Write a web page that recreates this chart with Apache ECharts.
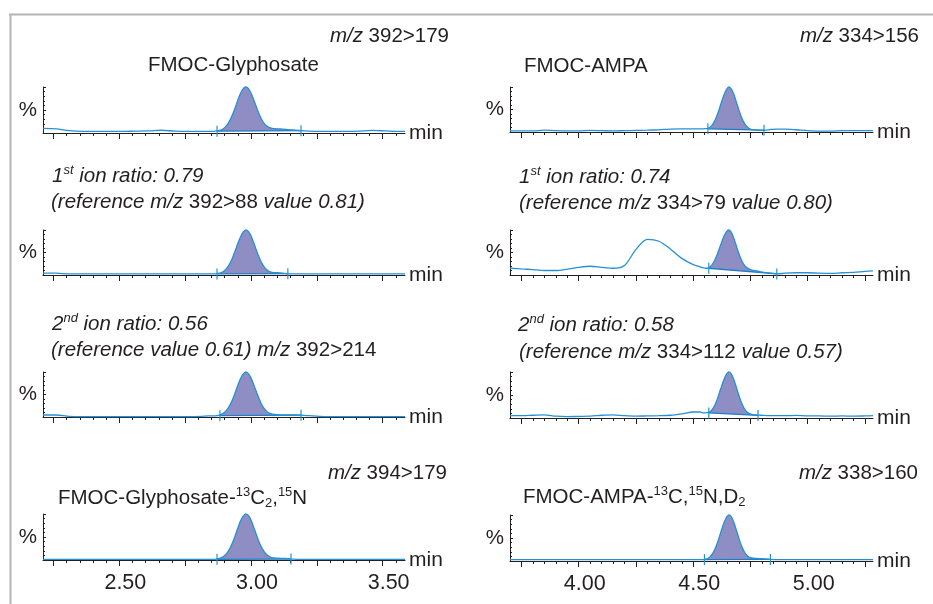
<!DOCTYPE html>
<html><head><meta charset="utf-8">
<script src="https://cdn.jsdelivr.net/npm/echarts@6/dist/echarts.min.js"></script>
<style>html,body{margin:0;padding:0;background:#fff}#c{width:933px;height:604px}</style>
</head><body><div id="c"></div>
<script>
// ---------- DATA ----------
const timesLeft = [2.21,2.26,2.31,2.36,2.41,2.46,2.51,2.56,2.61,2.66,2.71,2.76,2.81,2.84,2.86,
  2.87,2.88,2.89,2.90,2.91,2.92,2.93,2.94,2.95,2.96,2.97,2.98,2.99,3.00,3.01,3.02,3.03,3.04,3.05,3.06,3.07,3.08,
  3.10,3.12,3.14,3.16,3.19,
  3.22,3.26,3.31,3.36,3.41,3.46,3.51,3.56,3.585];
const timesRight = [3.70,3.75,3.80,3.85,3.90,3.95,4.00,4.05,4.10,4.15,4.20,4.25,4.30,4.35,4.40,4.45,4.50,4.53,
  4.545,4.555,4.565,4.575,4.585,4.595,4.605,4.615,4.625,4.635,4.645,4.655,4.665,4.675,4.685,4.695,4.705,4.715,4.725,4.735,4.745,4.755,
  4.775,4.795,4.815,4.84,4.87,
  4.90,4.95,5.00,5.05,5.10,5.15,5.20,5.25,5.285];

const glyphosate = [10,9,5,3.5,3.5,3.5,3.5,4,4.5,6,4,3.5,3.5,3.5,3.7,
  4.4,5.5,7.7,11.7,18,27.5,40,55,71.5,86,96,100,97,87,73,57.5,42.5,30,21,15,11.5,10,
  9,8.5,7.5,6.5,5,
  4,3.5,3.5,3.5,4,5.5,4.5,3.5,3.5];
const glyphosateIon1 = [4,4,2.5,2.5,2.5,2.5,2.5,2.5,2.5,2.5,2.5,2.5,2.5,2.5,2.5,
  2.9,4,6.2,10.2,16.5,26,38.6,53.7,70,84.5,95,100,97,87,72,56,40.5,27.5,18,11.5,7.5,6,
  5,4,3,2.5,2.5,
  2.5,2.5,2.5,2.5,2.5,2.5,2.5,2.5,2.5];
const glyphosateIon2 = [4.5,4.5,1.5,1,1,1,1,1,1,1,1,1,1.5,2.5,2.5,
  3,4,6.5,10.5,17,26.5,39,54,70.5,85,95,100,96.5,87,72.5,57,41.5,28.5,19,12.5,8.5,6.5,
  5,4.5,4.5,4.5,4,
  3,1.5,1,1,1,1,1,1,1];
const glyphosateIS = [1.5,1.5,1.5,1.5,1.5,1.5,1.5,1.5,1.5,1.5,1.5,1.5,1.5,1.5,1.5,
  2.3,3.5,5.7,9.7,16,25.5,38,53,69.5,84.5,95,100,97,87,72,56,40.5,27.5,18,11.5,7.5,5,
  4,3.5,3,2,1.5,
  1.5,1.5,1.5,1.5,1.5,1.5,1.5,1.5,1.5];

const ampa = [2.5,2.5,2.5,4,3,2.5,2.5,3.5,3,2.5,3,3.5,4,5,6.5,7,7,7,
  7,7.5,8,11,17,26,38.5,53,69,83.5,94,100,96.5,86.5,72,56,40.5,27.5,18,11.5,7.5,5.5,
  4,3.5,4,6,6.5,
  6.5,5,3,2,2,3,3,3,3];
const ampaIon1 = [15,13.5,12,10,10,13,17,19.5,17,15,21,57,79,75,58,37,23,18,
  16,15,15.5,19,25,34,46,60,74,87,96,100,96,85,70,54,40,29,21,16,13,11,
  9,7,5.5,4,2.5,
  4,5,5,4,3.5,5,6,8,9];
const ampaIon2 = [5,5,6,7,4,3,3.5,4,6,7,5,4,4.5,5,6,9,13,13,
  11,11,12,14,20,29,41,56,71,85,95,100,96.5,86.5,72,56,41,28,19,13,9.5,8,
  6.5,6,5.5,5,5,
  5,5.5,4.5,4.5,4,4.5,4,4.5,5];
const ampaIS = [3,3,3,3,3,3,3,3,3,3,3,3,3,3,3,3,3,3,
  3.2,4,6,10,16.5,26,38.5,53.5,69.5,84,94.5,100,97,87,72.5,56.5,41,28,18.5,12,8,6.5,
  5.5,5,4.5,3.5,3,
  3,3,3,3,3,3,3,3,3];

// integration windows: [start time, start baseline, end time, end baseline]
const integGlyphosate = [2.871, 4, 3.19, 5];
const integGlyphosateIon1 = [2.871, 2.5, 3.14, 3];
const integGlyphosateIon2 = [2.882, 3, 3.19, 4];
const integGlyphosateIS = [2.871, 1.5, 3.152, 2];
const integAmpa = [4.564, 7, 4.809, 4];
const integAmpaIon1 = [4.568, 15, 4.865, 2.5];
const integAmpaIon2 = [4.568, 11, 4.783, 5.5];
const integAmpaIS = [4.549, 3, 4.837, 3.5];

const majorTicksLeft = [2.25,2.50,2.75,3.00,3.25,3.50];
const minorTicksLeft = [2.25,2.30,2.35,2.40,2.45,2.50,2.55,2.60,2.65,2.70,2.75,2.80,2.85,2.90,2.95,3.00,3.05,3.10,3.15,3.20,3.25,3.30,3.35,3.40,3.45,3.50,3.55];
const tickLabelsLeft = [2.50,3.00,3.50];
const majorTicksRight = [3.75,4.00,4.25,4.50,4.75,5.00,5.25];
const minorTicksRight = [3.75,3.80,3.85,3.90,3.95,4.00,4.05,4.10,4.15,4.20,4.25,4.30,4.35,4.40,4.45,4.50,4.55,4.60,4.65,4.70,4.75,4.80,4.85,4.90,4.95,5.00,5.05,5.10,5.15,5.20,5.25];
const tickLabelsRight = [4.00,4.50,5.00];
const rangeLeft = [2.21, 3.585];
const rangeRight = [3.70, 5.285];

// ---------- LAYOUT ----------
const FONT = '"Liberation Sans", Arial, Helvetica, sans-serif';
const TXT = '#231f20';
const AX = '#231f20';
const LINE = '#2590d4';
const FILL = '#8e8ec5';
const INTEG = '#1c7fc4';

const panels = [
  {col:0, top:87,  h:46, t:timesLeft,  v:glyphosate,     integ:integGlyphosate},
  {col:1, top:87,  h:45, t:timesRight, v:ampa,           integ:integAmpa},
  {col:0, top:230, h:45, t:timesLeft,  v:glyphosateIon1, integ:integGlyphosateIon1},
  {col:1, top:230, h:45, t:timesRight, v:ampaIon1,       integ:integAmpaIon1},
  {col:0, top:372, h:45, t:timesLeft,  v:glyphosateIon2, integ:integGlyphosateIon2},
  {col:1, top:372, h:46, t:timesRight, v:ampaIon2,       integ:integAmpaIon2},
  {col:0, top:514, h:46, t:timesLeft,  v:glyphosateIS,   integ:integGlyphosateIS},
  {col:1, top:515, h:46, t:timesRight, v:ampaIS,         integ:integAmpaIS}
];

const grids = [], xAxes = [], yAxes = [], series = [];
panels.forEach((p, g) => {
  const left = p.col === 0 ? 43 : 510;
  const width = p.col === 0 ? 362 : 363;
  const range = p.col === 0 ? rangeLeft : rangeRight;
  const major = p.col === 0 ? majorTicksLeft : majorTicksRight;
  const minor = p.col === 0 ? minorTicksLeft : minorTicksRight;
  const labels = p.col === 0 ? tickLabelsLeft : tickLabelsRight;
  const bottomRow = g >= 6;
  grids.push({left: left, top: p.top, width: width, height: p.h});
  xAxes.push({
    type: 'value', gridIndex: g, min: range[0], max: range[1], position: 'bottom',
    name: 'min', nameLocation: 'end', nameGap: 4,
    nameTextStyle: {fontFamily: FONT, fontSize: 21, color: TXT, verticalAlign: 'middle', padding: [7, 0, 0, 0]},
    axisLine: {show: true, onZero: false, lineStyle: {color: AX, width: 1}},
    axisTick: {show: true, inside: false, length: 6, customValues: major, lineStyle: {color: AX, width: 1}},
    axisLabel: {show: bottomRow, customValues: labels, margin: 12, fontFamily: FONT, fontSize: 21.5, color: TXT,
      padding: [0, 0, 0, 12], formatter: v => Number(v).toFixed(2)},
    splitLine: {show: false}
  });
  xAxes.push({
    type: 'value', gridIndex: g, min: range[0], max: range[1], position: 'bottom',
    axisLine: {show: false},
    axisTick: {show: true, inside: false, length: 3, customValues: minor, lineStyle: {color: AX, width: 1}},
    axisLabel: {show: false}, splitLine: {show: false}
  });
  yAxes.push({
    type: 'value', gridIndex: g, min: 0, max: 100, interval: 50,
    name: '%', nameLocation: 'middle', nameRotate: 0, nameGap: 6,
    nameTextStyle: {fontFamily: FONT, fontSize: 20.5, color: TXT},
    axisLine: {show: true, lineStyle: {color: AX, width: 1}},
    axisTick: {show: true, inside: true, length: 3, lineStyle: {color: AX}},
    minorTick: {show: true, splitNumber: 5, length: 2, lineStyle: {color: AX}},
    axisLabel: {show: false}, splitLine: {show: false}, minorSplitLine: {show: false}
  });
  const times = p.t, vals = p.v, integ = p.integ;
  series.push({
    type: 'custom', xAxisIndex: 2 * g, yAxisIndex: g, z: 1, silent: true, clip: false,
    data: [[integ[0], integ[1]]],
    renderItem: function (params, api) {
      const a = api.coord([integ[0], integ[1]]);
      const b = api.coord([integ[2], integ[3]]);
      const pts = [a];
      for (let i = 0; i < times.length; i++) {
        if (times[i] > integ[0] && times[i] < integ[2]) pts.push(api.coord([times[i], vals[i]]));
      }
      pts.push(b);
      return {type: 'group', children: [
        {type: 'polygon', shape: {points: pts}, style: {fill: FILL, stroke: null}},
        {type: 'line', shape: {x1: a[0], y1: a[1], x2: b[0], y2: b[1]}, style: {stroke: INTEG, lineWidth: 1.3}},
        {type: 'line', shape: {x1: a[0], y1: a[1] - 5.5, x2: a[0], y2: a[1] + 5.5}, style: {stroke: LINE, lineWidth: 1.2}},
        {type: 'line', shape: {x1: b[0], y1: b[1] - 5.5, x2: b[0], y2: b[1] + 5.5}, style: {stroke: LINE, lineWidth: 1.2}}
      ]};
    }
  });
  series.push({
    type: 'line', xAxisIndex: 2 * g, yAxisIndex: g, z: 3, silent: true,
    data: times.map((t, i) => [t, vals[i]]),
    showSymbol: false, smooth: 0.3, clip: false,
    lineStyle: {color: LINE, width: 1.3}
  });
});

// ---------- TEXT ----------
const rich = {
  i: {fontFamily: FONT, fontSize: 20.5, fontStyle: 'italic', color: TXT, lineHeight: 24},
  n: {fontFamily: FONT, fontSize: 20.5, color: TXT, lineHeight: 24},
  sup: {fontFamily: FONT, fontSize: 13, color: TXT, lineHeight: 14, verticalAlign: 'top'},
  supi: {fontFamily: FONT, fontSize: 13, fontStyle: 'italic', color: TXT, lineHeight: 14, verticalAlign: 'top'},
  sub: {fontFamily: FONT, fontSize: 13, color: TXT, lineHeight: 14, verticalAlign: 'bottom'}
};
function T(text, pos) {
  return Object.assign({text: text, padding: 0, itemGap: 0,
    textStyle: {fontFamily: FONT, fontSize: 20.5, fontWeight: 'normal', color: TXT, lineHeight: 24, rich: rich}}, pos);
}
const titles = [
  T('{i|m/z}{n| 392>179}', {right: 484, top: 24}),
  T('{n|FMOC-Glyphosate}', {left: 148, top: 53}),
  T('{i|m/z}{n| 334>156}', {right: 14, top: 24}),
  T('{n|FMOC-AMPA}', {left: 524, top: 54}),
  T('{i|1}{supi|st}{i| ion ratio: 0.79}', {left: 52, top: 164}),
  T('{i|(reference m/z }{n|392>88}{i| value 0.81)}', {left: 51, top: 190}),
  T('{i|1}{supi|st}{i| ion ratio: 0.74}', {left: 519, top: 165}),
  T('{i|(reference m/z }{n|334>79}{i| value 0.80)}', {left: 519, top: 191}),
  T('{i|2}{supi|nd}{i| ion ratio: 0.56}', {left: 52, top: 312}),
  T('{i|(reference value 0.61) m/z }{n|392>214}', {left: 51, top: 338}),
  T('{i|2}{supi|nd}{i| ion ratio: 0.58}', {left: 518, top: 313}),
  T('{i|(reference m/z }{n|334>112}{i| value 0.57)}', {left: 519, top: 340}),
  T('{i|m/z}{n| 394>179}', {right: 486, top: 461}),
  T('{n|FMOC-Glyphosate-}{sup|13}{n|C}{sub|2}{n|,}{sup|15}{n|N}', {left: 58, top: 486}),
  T('{i|m/z}{n| 338>160}', {right: 15, top: 461}),
  T('{n|FMOC-AMPA-}{sup|13}{n|C,}{sup|15}{n|N,D}{sub|2}', {left: 523, top: 485})
];

const chart = echarts.init(document.getElementById('c'), null, {renderer: 'canvas'});
chart.setOption({
  animation: false,
  backgroundColor: '#ffffff',
  title: titles,
  grid: grids, xAxis: xAxes, yAxis: yAxes, series: series,
  graphic: [
    {type: 'line', shape: {x1: 9, y1: 14.5, x2: 933, y2: 14.5}, style: {stroke: '#b4b4b4', lineWidth: 2}, silent: true},
    {type: 'line', shape: {x1: 10.5, y1: 14, x2: 10.5, y2: 604}, style: {stroke: '#b4b4b4', lineWidth: 2}, silent: true}
  ]
});
</script></body></html>
